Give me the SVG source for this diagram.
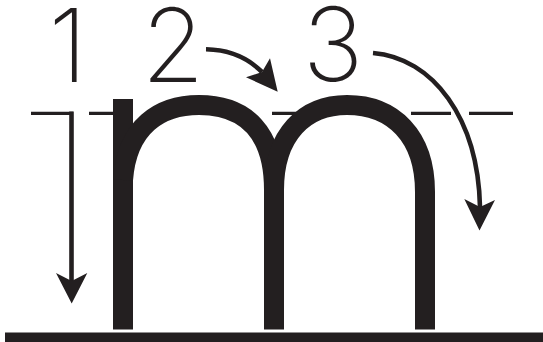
<svg xmlns="http://www.w3.org/2000/svg" width="543" height="342" viewBox="0 0 543 342">
<style>
.num{font-family:Inter,"Liberation Sans",sans-serif;font-weight:200;font-size:102px;fill:#231f20;text-anchor:middle}
.dash{stroke:#231f20;stroke-width:3.4;fill:none}
.arr{stroke:#231f20;stroke-width:4.6;fill:none}
.head{fill:#231f20}
.m{stroke:#231f20;stroke-width:20;fill:none}
</style>
<rect width="543" height="342" fill="#fff"/>
<g id="guides">
<path class="dash" d="M31,113.4H73M89,113.4H130M272,113.4H298M330,113.4H370M411,113.4H451M469,113.4H513"/>
<rect x="5" y="332.5" width="538" height="9.5" fill="#231f20"/>
</g>
<g id="letter">
<path class="m" d="M123,99V329.5"/>
<path class="m" d="M123,180C127,126 160,105 199,105C246,105 274,133 274,190V329.5"/>
<path class="m" d="M274,190C274,134 305,105 347,105C393,105 425,136 425,192V329.5"/>
</g>
<g id="numbers">
<text class="num" x="68" y="81.5">1</text>
<text class="num" x="173" y="81.5">2</text>
<text class="num" x="333" y="80.5">3</text>
</g>
<g id="connectors">
<path class="arr" d="M71.5,111.5V282"/>
<path class="head" d="M71.7,303.5L56,273L71.7,281L87.3,273Z"/>
<path class="arr" d="M206,49.3Q240,50 262,72"/>
<path class="head" d="M277.7,91.7L246,77.3L262,72L270,58.3Z"/>
<path class="arr" d="M373,53C433,58 478,118 480,207"/>
<path class="head" d="M479.5,230.5L464.3,199L480,207L495,200Z"/>
</g>
</svg>
